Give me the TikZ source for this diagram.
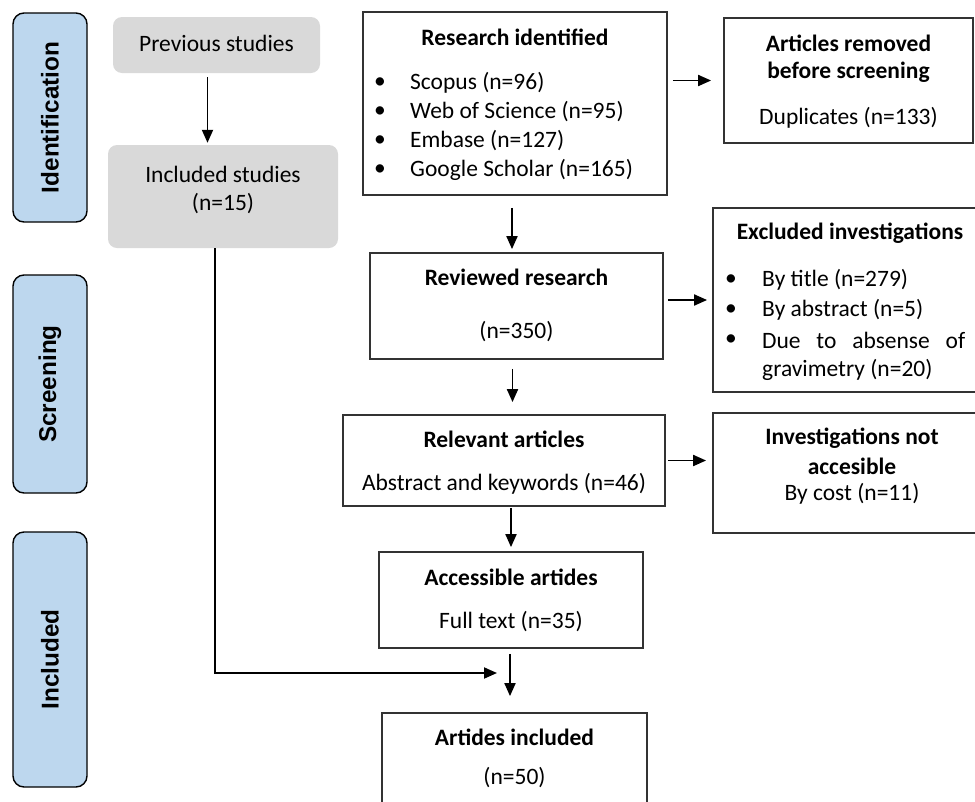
\documentclass[tikz,border=0pt]{standalone}
\usepackage{fontspec}
\setmainfont{Carlito}
\newfontfamily\stagefont{Liberation Sans}
\usetikzlibrary{arrows.meta}
\definecolor{stageblue}{RGB}{189,215,238}
\definecolor{boxgrey}{RGB}{217,217,217}

\begin{document}
\begin{tikzpicture}[x=1pt,y=-1pt,
  every node/.style={inner sep=0pt,font=\fontsize{23.5}{28}\selectfont},
  box/.style={draw=black!80,line width=1.8pt},
  greybox/.style={fill=boxgrey,rounded corners=9pt},
  stage/.style={draw=black,line width=1.4pt,fill=stageblue,rounded corners=11pt,minimum width=74pt},
  stagetext/.style={rotate=90,font=\stagefont\bfseries\fontsize{24.3}{28}\selectfont},
  head/.style={font=\bfseries\fontsize{23.5}{28}\selectfont},
  arr/.style={line width=1.9pt,-{Triangle[length=13pt,width=11pt]}}]
  \useasboundingbox (0,0) rectangle (975,801);

  % stage labels on the left
  \node[stage,minimum height=209pt] (ident) at (50,117.5) {};
  \node[stagetext] (identT) at (ident) {Identification};
  \node[stage,minimum height=218pt] (screen) at (50,384) {};
  \node[stagetext] (screenT) at (screen) {Screening};
  \node[stage,minimum height=255pt] (incl) at (50,659.5) {};
  \node[stagetext] (inclT) at (incl) {Included};

  % previous studies
  \node[greybox,minimum width=207pt,minimum height=56pt] (prev) at (216.5,45) {};
  \node (prevT) at (216.5,43) {Previous studies};
  \node[greybox,minimum width=230pt,minimum height=103pt] (prior) at (223,196.5) {};
  \node (priorA) at (223,174) {Included studies};
  \node (priorB) at (223,204) {(n=15)};

  % identification
  \node[box,minimum width=304pt,minimum height=183pt] (found) at (515,103.5) {};
  \node[head] (foundT) at (515,37) {Research identified};
  \node[anchor=west] (foundB1) at (374,83) {\textbullet};
  \node[anchor=west] (foundL1) at (410,83) {Scopus (n=96)};
  \node[anchor=west] (foundB2) at (374,112) {\textbullet};
  \node[anchor=west] (foundL2) at (410,112) {Web of Science (n=95)};
  \node[anchor=west] (foundB3) at (374,141) {\textbullet};
  \node[anchor=west] (foundL3) at (410,141) {Embase (n=127)};
  \node[anchor=west] (foundB4) at (374,170) {\textbullet};
  \node[anchor=west] (foundL4) at (410,170) {Google Scholar (n=165)};

  \node[box,minimum width=249pt,minimum height=125pt] (dupl) at (848.5,80.5) {};
  \node[head] (duplA) at (848.5,43) {Articles removed};
  \node[head] (duplB) at (848.5,72) {before screening};
  \node (duplC) at (848.5,118) {Duplicates (n=133)};

  % screening
  \node[box,minimum width=293pt,minimum height=106pt] (review) at (516.5,306) {};
  \node[head] (reviewT) at (516.5,277) {Reviewed research};
  \node (reviewN) at (516.5,332) {(n=350)};

  \node[box,minimum width=275pt,minimum height=184pt] (excl) at (850.5,300) {};
  \node[head] (exclT) at (850,233) {Excluded investigations};
  \node[anchor=west] (exclB1) at (725,280) {\textbullet};
  \node[anchor=west] (exclL1) at (762,280) {By title (n=279)};
  \node[anchor=west] (exclB2) at (725,310) {\textbullet};
  \node[anchor=west] (exclL2) at (762,310) {By abstract (n=5)};
  \node[anchor=west] (exclB3) at (725,340) {\textbullet};
  \node[anchor=west] (exclL3) at (762,340) {\makebox[203pt][s]{Due to absense of}};
  \node[anchor=west] (exclL4) at (762,370) {gravimetry (n=20)};

  \node[box,minimum width=322pt,minimum height=91pt] (relev) at (504,460.5) {};
  \node[head] (relevT) at (504,439) {Relevant articles};
  \node (relevN) at (504,484) {Abstract and keywords (n=46)};

  \node[box,minimum width=275pt,minimum height=120pt] (noacc) at (850.5,473) {};
  \node[head] (noaccA) at (852,438) {Investigations not};
  \node[head] (noaccB) at (852,466) {accesible};
  \node (noaccC) at (852,494) {By cost (n=11)};

  % included
  \node[box,minimum width=264pt,minimum height=96pt] (access) at (511,600) {};
  \node[head] (accessT) at (511,577) {Accessible artides};
  \node (accessN) at (511,622) {Full text (n=35)};

  \node[box,minimum width=265pt,minimum height=100pt] (final) at (514.5,763) {};
  \node[head] (finalT) at (514.5,737) {Artides included};
  \node (finalN) at (514.5,778) {(n=50)};

  % connectors
  \coordinate (merge) at (497,673);
  \draw[arr,shorten <=4pt,shorten >=2pt] ([xshift=-9pt]prev.south) -- ([xshift=-9pt]prev.south |- prior.north);
  \draw[arr] ([xshift=-8pt]prior.south) |- (merge);
  \draw[arr,shorten <=5pt,shorten >=12pt] (found.east |- dupl.west) -- (dupl.west);
  \draw[arr,shorten <=12pt,shorten >=3pt] ([xshift=-3pt]found.south) -- ([xshift=-3pt]found.south |- review.north);
  \draw[arr,shorten <=4pt,shorten >=5pt] (review.east |- excl.west) -- (excl.west);
  \draw[arr,shorten <=9pt,shorten >=12pt] ([xshift=-4pt]review.south) -- ([xshift=-4pt]review.south |- relev.north);
  \draw[arr,shorten <=2pt,shorten >=6pt] (relev.east) -- (relev.east -| noacc.west);
  \draw[arr,shorten <=1pt,shorten >=4pt] (access.north |- relev.south) -- (access.north);
  \draw[arr,shorten <=5pt,shorten >=16pt] ([xshift=-1pt]access.south) -- ([xshift=-1pt]access.south |- final.north);
\end{tikzpicture}
\end{document}
